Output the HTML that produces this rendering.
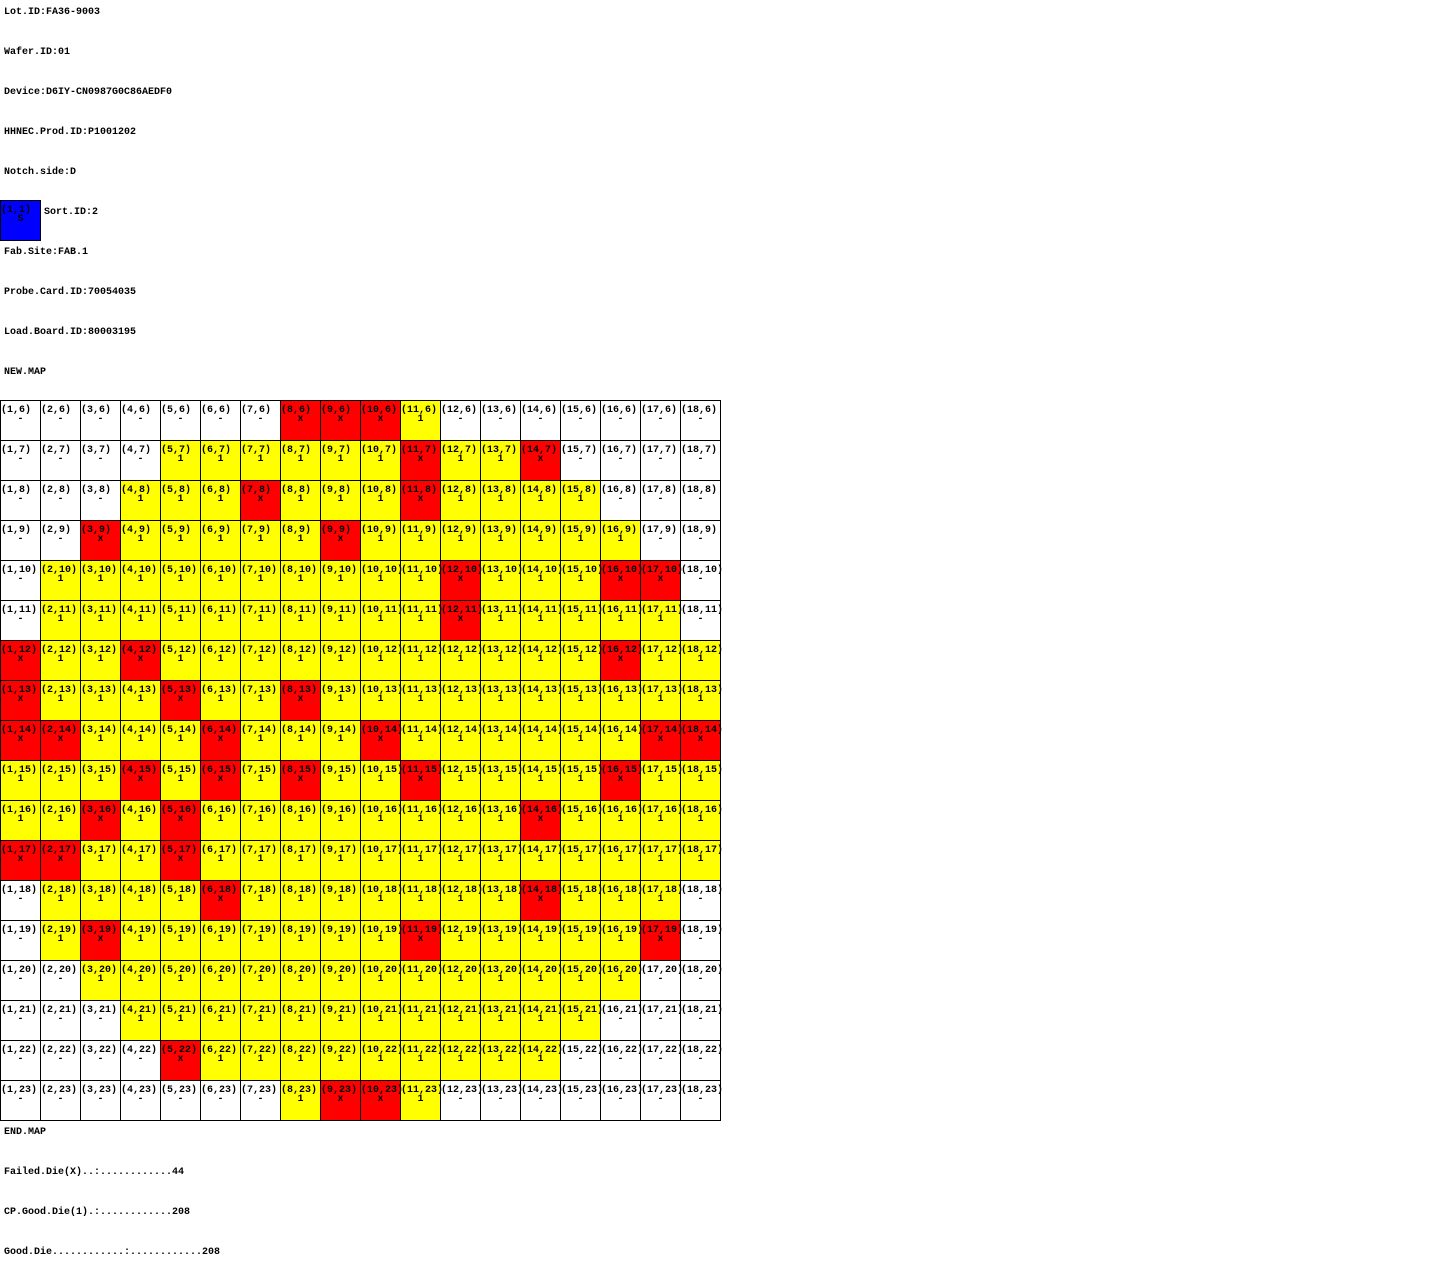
<!DOCTYPE html>
<html><head><meta charset="utf-8"><style>
body{margin:0;width:1440px;height:1280px;background:#fff;position:relative;overflow:hidden;font-family:"Liberation Mono","DejaVu Sans Mono",monospace;font-weight:bold;font-size:10px;color:#000}
.t{position:absolute;left:4px;line-height:12px;white-space:pre;margin-top:3px}
.c{position:absolute;width:41px;height:41px;box-sizing:border-box;border:1px solid #000;line-height:9px;padding-top:5px;white-space:nowrap;overflow:visible}
.c span{display:block}
.c span.a{text-align:left;margin-left:0;position:relative;z-index:2}
.c span.b{text-align:center}
</style></head><body>
<div class="t" style="top:4px">Lot.ID:FA36-9003</div>
<div class="t" style="top:44px">Wafer.ID:01</div>
<div class="t" style="top:84px">Device:D6IY-CN0987G0C86AEDF0</div>
<div class="t" style="top:124px">HHNEC.Prod.ID:P1001202</div>
<div class="t" style="top:164px">Notch.side:D</div>
<div class="c" style="left:0;top:200px;background:#0000ff"><span class="a">(1,1)</span><span class="b">S</span></div>
<div class="t" style="top:204px;left:44px">Sort.ID:2</div>
<div class="t" style="top:244px">Fab.Site:FAB.1</div>
<div class="t" style="top:284px">Probe.Card.ID:70054035</div>
<div class="t" style="top:324px">Load.Board.ID:80003195</div>
<div class="t" style="top:364px">NEW.MAP</div>
<div id="grid"></div>
<div class="t" style="top:1124px">END.MAP</div>
<div class="t" style="top:1164px">Failed.Die(X)..:............44</div>
<div class="t" style="top:1204px">CP.Good.Die(1).:............208</div>
<div class="t" style="top:1244px">Good.Die............:............208</div>
<script>
const rowIds=[6,7,8,9,10,11,12,13,14,15,16,17,18,19,20,21,22,23];
const colIds=[1,2,3,4,5,6,7,8,9,10,11,12,13,14,15,16,17,18];
const bins=[
".......XXX1.......",
"....111111X11X....",
"...111X111X1111...",
"..X11111X1111111..",
".1111111111X111XX.",
".1111111111X11111.",
"X11X11111111111X11",
"X111X11X1111111111",
"XX111X111X111111XX",
"111X1X1X11X1111X11",
"11X1X11111111X1111",
"XX11X1111111111111",
".1111X1111111X111.",
".1X1111111X11111X.",
"..11111111111111..",
"...111111111111...",
"....X111111111....",
".......1XX1......."
];
const g=document.getElementById('grid');
rowIds.forEach((r,ri)=>{colIds.forEach((c,ci)=>{
 const v=bins[ri][ci];
 const d=document.createElement('div');
 d.className='c';
 d.style.left=(ci*40)+'px';d.style.top=(400+ri*40)+'px';
 d.style.background=v==='X'?'#ff0000':v==='1'?'#ffff00':'#ffffff';
 d.innerHTML='<span class="a">('+c+','+r+')</span><span class="b">'+(v==='.'?'-':v==='X'?'x':v)+'</span>';
 
 
 g.appendChild(d);
});});
</script>
</body></html>
